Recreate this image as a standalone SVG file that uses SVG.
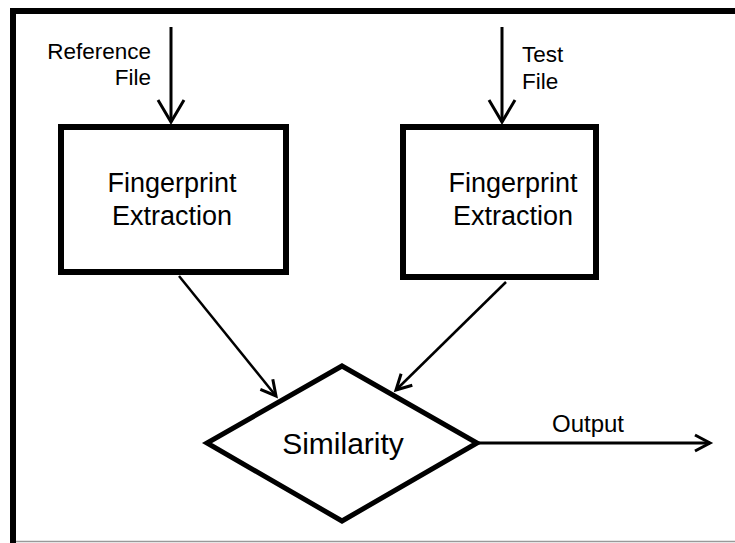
<svg xmlns="http://www.w3.org/2000/svg" width="735" height="543" viewBox="0 0 735 543">
<defs>
<style>
text{font-family:"Liberation Sans",Arial,sans-serif;fill:#000}
.box{fill:#fff;stroke:#000;stroke-width:6}
.dia{fill:#fff;stroke:#000;stroke-width:5;stroke-linejoin:miter}
.conn{stroke:#000;fill:none}
.big{font-size:27px;text-anchor:middle}
.lbl{font-size:22.5px}
</style>
<marker id="ahBig" markerUnits="userSpaceOnUse" viewBox="-26 -16 30 32" refX="0" refY="0" markerWidth="30" markerHeight="32" orient="auto">
<path d="M-22,-13 L0,0 L-22,13" fill="none" stroke="#000" stroke-width="3"/>
</marker>
<marker id="ahSm" markerUnits="userSpaceOnUse" viewBox="-20 -12 24 24" refX="0" refY="0" markerWidth="24" markerHeight="24" orient="auto">
<path d="M-15,-8 L0,0 L-15,8" fill="none" stroke="#000" stroke-width="3"/>
</marker>
</defs>
<rect width="735" height="543" fill="#fff"/>
<g id="frame">
<path d="M10,541.5 H735" stroke="#999" stroke-width="1.5" fill="none"/>
<path d="M13,543 V11 H735" stroke="#000" stroke-width="6" fill="none"/>
</g>
<g id="connectors">
<line class="conn" x1="171" y1="27" x2="171" y2="122" stroke-width="3" marker-end="url(#ahBig)"/>
<line class="conn" x1="502" y1="27" x2="502" y2="122" stroke-width="3" marker-end="url(#ahBig)"/>
<line class="conn" x1="179" y1="276" x2="276" y2="396" stroke-width="2.5" marker-end="url(#ahSm)"/>
<line class="conn" x1="506" y1="282" x2="396" y2="390" stroke-width="2.5" marker-end="url(#ahSm)"/>
<line class="conn" x1="477" y1="443" x2="710" y2="443" stroke-width="3" marker-end="url(#ahSm)"/>
<text class="lbl" x="151" y="59" text-anchor="end">Reference</text>
<text class="lbl" x="151" y="85" text-anchor="end">File</text>
<text class="lbl" x="522" y="62">Test</text>
<text class="lbl" x="522" y="89">File</text>
<text x="588" y="432" text-anchor="middle" font-size="24">Output</text>
</g>
<g id="fp-ref">
<rect class="box" x="61" y="127" width="225" height="145"/>
<text class="big" x="172" y="192">Fingerprint</text>
<text class="big" x="172" y="225">Extraction</text>
</g>
<g id="fp-test">
<rect class="box" x="403" y="127" width="193" height="150"/>
<text class="big" x="513" y="192">Fingerprint</text>
<text class="big" x="513" y="225">Extraction</text>
</g>
<g id="similarity">
<polygon class="dia" points="342,366 477,443 342,521 207,443"/>
<text x="343" y="454" text-anchor="middle" font-size="30">Similarity</text>
</g>
</svg>
